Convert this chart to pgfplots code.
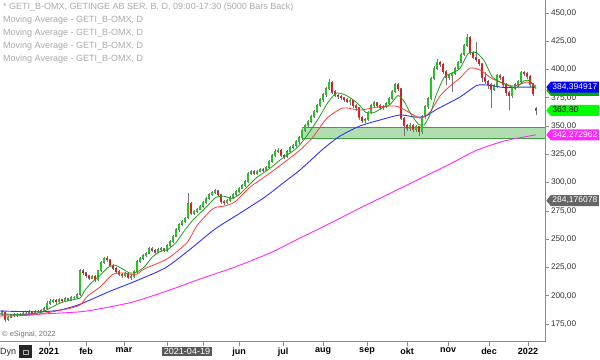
\documentclass[border=0pt]{standalone}
\usepackage{fontspec}
\setmainfont{Liberation Sans}
\usepackage{pgfplots}
\pgfplotsset{compat=1.18}
\usepackage{pgfplotstable}
\usetikzlibrary{shapes.symbols}

\definecolor{cwick}{RGB}{115,115,115}
\definecolor{cup}{RGB}{30,200,30}
\definecolor{cdn}{RGB}{220,30,30}
\definecolor{maG}{RGB}{30,160,30}
\definecolor{maR}{RGB}{255,60,60}
\definecolor{maB}{RGB}{50,50,255}
\definecolor{maM}{RGB}{255,40,255}
\definecolor{cband}{RGB}{176,222,176}
\definecolor{cbandl}{RGB}{60,160,60}
\definecolor{leg}{RGB}{170,170,170}
\definecolor{axg}{RGB}{140,140,140}

\pgfplotstableread{
x o h l c
2 184 187 182 185.5
5 185 185.5 176.5 179
8 179 182.5 178 181
11 181 184 180 183
14 183 184.5 181.5 182.5
17 182.5 185 181.5 183.5
20 183.5 184.5 182 183
23 183 185.5 182.5 184
26 184 186 183 184.5
29 184.5 187 183.5 185.5
32 185.5 186.5 183 184
35 184 187 183.5 185.5
38 185.5 187.5 184.5 186
41 186 188 185 186.5
44 186.5 190 185.5 188.5
47 189 195 188 193
50 193 197 192 195
53 195 197.5 194 196
56 196 197 193 194.5
59 194.5 198 193.5 196.5
62 196.5 197.5 194.5 195.5
65 195.5 198.5 194.5 197
68 197 198 195 196
71 196 199.5 195 198
74 198 200 197 198.5
77 198.5 202 197.5 200.5
80 201 224 200 222
83 222 224 218.5 220
86 220 221 216 217.5
89 217.5 218.5 214 215.5
92 215.5 218.5 214.5 217
95 217 218 212.5 214
98 214 223 213 222
101 222 231 221 229.5
104 229.5 234.5 228.5 233
107 233 235 230 231.5
110 231.5 232.5 225.5 227
113 227 228 222.5 224
116 224 225 219.5 221
119 221 222.5 217.5 219
122 219 220.5 216 218
125 218 221 216.5 219.5
128 219.5 220.5 214.5 216
131 216 218 214 216.5
134 216.5 223 215.5 221.5
137 221.5 231.5 220.5 230
140 230 234.5 229 233
143 233 236.5 231.5 235
146 235 239 234 237.5
149 237.5 243 236.5 241.5
152 241.5 243 238.5 240
155 240 241.5 237 238.5
158 238.5 242 237.5 240.5
161 240.5 243 239.5 241.5
164 241.5 242.5 238.5 240
167 240 245.5 239 244
170 244 249 243 247.5
173 247.5 254 246.5 252.5
176 252.5 259.5 251.5 258
179 258 264.5 256.5 263
182 263 267 261.5 265.5
185 265.5 270 264.5 268.5
188 269 291 268 281
191 281 283 271.5 273
194 273 276 271.5 274.5
197 274.5 278 273 276.5
200 276.5 280.5 275.5 279
203 279 284 278 282.5
206 282.5 287.5 281.5 286
209 286 290.5 285 289
212 289 293 288 291.5
215 291.5 294.5 290 292.5
218 292.5 293.5 287.5 289
221 289 290 281.5 283
224 283 284.5 280 282
227 282 285.5 281 284
230 284 288 283 286.5
233 286.5 291 285.5 289.5
236 289.5 293.5 288.5 292
239 292 296.5 291 295
242 295 298.5 294 297
245 297 302 296 300.5
248 300.5 309.5 299.5 308
251 308 311 306.5 309.5
254 309.5 311 306.5 308
257 308 311.5 306.5 310
260 310 313 309 311.5
263 311.5 313 309.5 311
266 311 315 310 313.5
269 313.5 320 312.5 318.5
272 318.5 325 317.5 323.5
275 323.5 329.5 322.5 327.5
278 327.5 330.5 326 328.5
281 328.5 329.5 322.5 324
284 324 325.5 321 323
287 323 328.5 322 327
290 327 332.5 326 331
293 331 334.5 329.5 333
296 333 337.5 331.5 336
299 336 341 334.5 339.5
302 339.5 347.5 338 346
305 346 351.5 344.5 350
308 350 355.5 348.5 354
311 354 360 352.5 358.5
314 358.5 364.5 357 363
317 363 369.5 361.5 368
320 368 374.5 366.5 373
323 373 379 371.5 377.5
326 377.5 384.5 376 383
329 383 391.5 381.5 388.5
332 388.5 389.5 378.5 380
335 380 381.5 375.5 377
338 377 378.5 374 376
341 376 377.5 373.5 375
344 375 376 371 373
347 373 374.5 370 371.5
350 371.5 374 369 372.5
353 372.5 373.5 366 368
356 368 369.5 363 366
359 366 367 355 357.5
362 357.5 359 352.5 354.5
365 354.5 357 353 355.5
368 355.5 363.5 354.5 362
371 362 369.5 361 368
374 368 372 366.5 370.5
377 370.5 371.5 366 368
380 368 369.5 364 366
383 366 369 364.5 367.5
386 367.5 371 366 369.5
389 369.5 376 368.5 374.5
392 374.5 382 373.5 380.5
395 380.5 388 379 386.5
398 386.5 388 381 383
401 383 384 355 357
404 357 358 341.5 350.5
407 350.5 352 346 348
410 348 352.5 345.5 350.5
413 350.5 351.5 344.5 347
416 347 351 345 349.5
419 349.5 350.5 341 345
422 345 359.5 343 358
425 358 368.5 356.5 367
428 367 375.5 365.5 374
431 374 393.5 373 392
434 392 403 390.5 401
437 401 409 399.5 406.5
440 406.5 408 402.5 404.5
443 404.5 405.5 396 398
446 398 399.5 386 393
449 393 396.5 391 394.5
452 394.5 398 380 396.5
455 396.5 402 395 400.5
458 400.5 408 399.5 406.5
461 406.5 415 405.5 413.5
464 413.5 423 412 421.5
467 421.5 431 420 428.5
470 428.5 429.5 413 414.5
473 414.5 416 409 410.5
476 410.5 424 407 408.5
479 408.5 409.5 403 405
482 405 406 389 392.5
485 392.5 398 387.5 389.5
488 389.5 391 383 386.5
491 386.5 388 366 382.5
494 382.5 387 381 385.5
497 385.5 396 384 394.5
500 394.5 396.5 391 393
503 393 394 384.5 386.5
506 386.5 388 377 379.5
509 379.5 381 364 376.5
512 376.5 385 375 383.5
515 383.5 388 382 386.5
518 386.5 391 385 389.5
521 389.5 399 388.5 397.5
524 397.5 399 394.5 396
527 396 397.5 392 394
530 394 395 385 387
533 387 388 377 378.5
536 365 367 360 363.8
}\candles

\begin{document}
\begin{tikzpicture}[x=1pt,y=1pt]
\useasboundingbox (0,0) rectangle (600,359);
\begin{axis}[
  at={(0pt,17pt)}, anchor=south west,
  scale only axis, width=545pt, height=342pt,
  xmin=0, xmax=545, ymin=159.1, ymax=461.5,
  clip=false,
  axis x line*=bottom, axis y line*=right,
  axis line style={axg, line width=1pt},
  tick align=outside, major tick length=3.5pt,
  tick style={axg, line width=0.7pt},
  ytick={175,200,...,450},
  xtick={49,86,124,167,203,239,283,323,367,407,448,489,528},
  xticklabels={2021,feb,mar,,,jun,jul,aug,sep,okt,nov,dec,2022},
  x tick label style={font=\bfseries\fontsize{9}{10}\selectfont, black, yshift=1pt},
  y tick label style={font=\fontsize{8.2}{9}\selectfont, black!80, xshift=-1pt,
    /pgf/number format/fixed, /pgf/number format/fixed zerofill,
    /pgf/number format/precision=2, /pgf/number format/use comma},
  /pgf/number format/assume math mode=true,
]
% support band
\addplot[fill=cband, draw=none, forget plot] coordinates {(302,339.5) (545,339.5) (545,349.2) (302,349.2)} -- cycle;
\addplot[cbandl, line width=0.9pt, forget plot] coordinates {(302,349.2) (545,349.2)};
\addplot[cbandl, line width=0.9pt, forget plot] coordinates {(302,339.5) (545,339.5)};

% wicks
\addplot[draw=none, forget plot, error bars/.cd, y dir=plus, y explicit, error mark=none,
  error bar style={draw=cwick, line width=0.65pt}]
  table[x=x, y=l, y error plus expr={\thisrow{h}-\thisrow{l}}] {\candles};
% body outline
\addplot[draw=none, forget plot, error bars/.cd, y dir=plus, y explicit, error mark=none,
  error bar style={draw=cwick, line width=2.5pt}]
  table[x=x, y expr={min(\thisrow{o},\thisrow{c})-0.3}, y error plus expr={abs(\thisrow{c}-\thisrow{o})+0.9}] {\candles};
% up bodies
\addplot[draw=none, forget plot, unbounded coords=discard, error bars/.cd, y dir=plus, y explicit, error mark=none,
  error bar style={draw=cup, line width=1.2pt}]
  table[x=x, y expr={\thisrow{c}>\thisrow{o} ? \thisrow{o}+0.2 : nan}, y error plus expr={\thisrow{c}-\thisrow{o}}] {\candles};
% down bodies
\addplot[draw=none, forget plot, unbounded coords=discard, error bars/.cd, y dir=plus, y explicit, error mark=none,
  error bar style={draw=cdn, line width=1.2pt}]
  table[x=x, y expr={\thisrow{c}<\thisrow{o} ? \thisrow{c}+0.2 : nan}, y error plus expr={\thisrow{o}-\thisrow{c}}] {\candles};

% 200 MA (magenta)
\addplot[maM, line width=0.9pt, smooth, tension=0.4] table {
x y
0 183
40 183.8
80 185.8
100 188.5
133 194.5
170 205.1
200 214.8
235 225.4
270 237.8
300 251
330 264
360 277.5
390 290.5
420 303.5
450 316.5
477 328.8
505 337
536 342.3
};
% 50 MA (blue)
\addplot[maB, line width=0.9pt, smooth, tension=0.4] table {
x y
0 186.5
40 185.8
60 187.4
80 192.5
110 204
133 212
165 224.5
190 241
215 259
240 273
265 287.3
285 301
300 311.2
323 329.7
340 341.2
360 350.1
380 355.4
400 359.8
415 358
425 358.5
437 365
460 375.7
477 386
490 386
505 384
520 384.5
536 384.4
};
% 20 MA (red)
\addplot[maR, line width=0.8pt, smooth, tension=0.4] table {
x y
0 182
33 183
67 188.3
80 191.8
88 200
100 207.7
113 219
125 220
135 218.5
145 224
167 232.5
187 247
197 262
213 277
225 279.5
235 283
250 296
270 308.5
290 321.8
300 328.8
313 340.3
327 357
343 366
360 364.2
378 366.9
395 367.8
405 364.2
420 357.1
430 362.4
440 376.6
450 385.4
460 392.5
470 401.3
480 399.6
493 391.6
513 385.4
527 389
536 385.4
};
% 10 MA (green)
\addplot[maG, line width=0.8pt, smooth, tension=0.4] table {
x y
0 184
20 183.5
40 185
50 189
60 193.5
70 196
80 198
85 205
92 212
100 218
108 225
115 227
122 224
130 220
137 221
145 226
152 234
160 239
168 241
176 247
184 257
192 266
200 273
208 280
216 287
224 288
232 286
240 290
248 297
256 304
264 309
272 314
280 320
288 325
296 330
304 338
312 348
320 359
328 371
336 379
344 378
352 374
360 368
366 362
374 362
382 366
390 369
398 377
404 372
410 362
418 352
424 351
430 360
436 377
444 393
452 397
460 401
468 414
476 415
484 408
492 394
500 389
508 386
516 384
524 390
530 390
536 383
};

% value tags
\tikzset{tag/.style={signal, signal to=west, signal pointer angle=100, inner xsep=1.5pt, inner ysep=1pt,
  font=\fontsize{8.5}{9}\selectfont, minimum height=11pt, anchor=west}}
\node[tag, fill=black!60, text=white!90] at (axis cs:546,284.18) {284,176078};
\node[tag, fill=maM, text=white] at (axis cs:546,342.27) {342,272962};
\node[tag, fill={rgb,255:red,0;green,255;blue,0}, text=black] at (axis cs:546,363.8) {363,80\phantom{0000}};
\node[tag, fill={rgb,255:red,0;green,170;blue,0}, text=black] at (axis cs:546,381.6) {\phantom{381,600000}};
\node[tag, fill=blue, text=white] at (axis cs:546,384.39) {384,394917};
\end{axis}

% header texts
\begin{scope}[every node/.style={anchor=west, inner sep=0pt, text=leg, font=\fontsize{9}{10}\selectfont}]
\node at (3,352) {* GETI\_B-OMX, GETINGE AB SER. B, D, 09:00-17:30 (5000 Bars Back)};
\node at (3,339) {Moving Average - GETI\_B-OMX, D};
\node at (3,326) {Moving Average - GETI\_B-OMX, D};
\node at (3,313) {Moving Average - GETI\_B-OMX, D};
\node at (3,300) {Moving Average - GETI\_B-OMX, D};
\end{scope}
\node[anchor=west, inner sep=0pt, text=black!55, font=\fontsize{7.5}{8}\selectfont] at (2,24) {© eSignal, 2022};
\node[anchor=west, inner sep=0pt, text=black!85, font=\fontsize{9}{10}\selectfont] at (0,7) {Dyn};
\fill[black!85] (19,1) rectangle (32,14);
\draw[white!70!black, line width=0.6pt] (23,5) rectangle (28,9);
\node[fill=black!65, text=white, inner xsep=2pt, inner ysep=1.5pt, font=\fontsize{9}{10}\selectfont] at (187,7.5) {2021-04-19};
\end{tikzpicture}
\end{document}
